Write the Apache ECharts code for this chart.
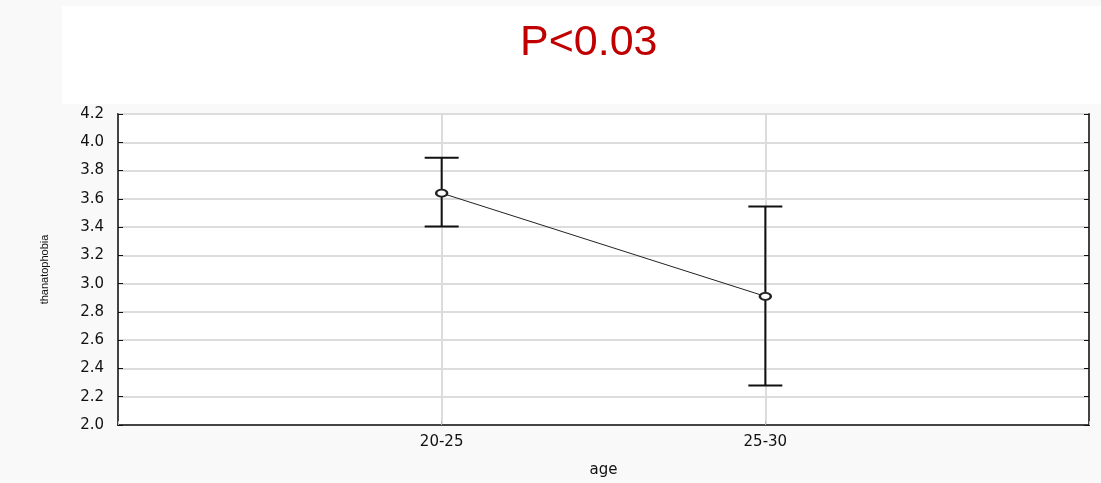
<!DOCTYPE html>
<html><head><meta charset="utf-8">
<script src="https://cdn.jsdelivr.net/npm/echarts@6/dist/echarts.min.js"></script>
<style>html,body{margin:0;padding:0;background:#f9f9f9;}#c{width:1101px;height:483px;}</style>
</head><body><div id="c"></div>
<script>
const categories = ['20-25', '25-30'];
const means = [3.64, 2.91];
const upper = [3.89, 3.545];
const lower = [3.405, 2.28];
const yTicks = [2.0, 2.2, 2.4, 2.6, 2.8, 3.0, 3.2, 3.4, 3.6, 3.8, 4.0, 4.2];

const chart = echarts.init(document.getElementById('c'), null, {renderer: 'canvas'});
const font = 'Liberation Sans, Arial, sans-serif';
const wide = 'DejaVu Sans, sans-serif';
chart.setOption({
  backgroundColor: '#f9f9f9',
  animation: false,
  graphic: [{type: 'rect', shape: {x: 62, y: 6, width: 1039, height: 98}, style: {fill: '#ffffff'}, z: -10}],
  title: {text: 'P<0.03', left: 520, top: 22, padding: 0, textStyle: {color: '#c00000', fontSize: 43, fontWeight: 'normal', fontFamily: font}},
  grid: {left: 118, right: 12, top: 114, bottom: 55, show: true, backgroundColor: '#ffffff', borderColor: '#111', borderWidth: 1.5},
  xAxis: {
    type: 'value', min: 0, max: 3, interval: 1,
    name: 'age', nameLocation: 'middle', nameGap: 38,
    nameTextStyle: {fontFamily: wide, fontSize: 15, color: '#111'},
    axisLine: {show: true, lineStyle: {color: '#111', width: 1.5}},
    axisTick: {show: true, inside: true, length: 4, lineStyle: {color: '#bbb'}},
    axisLabel: {fontFamily: wide, fontSize: 15, color: '#111', margin: 10, formatter: v => (v >= 1 && v <= categories.length) ? categories[v - 1] : ''},
    splitLine: {show: true, lineStyle: {color: '#dcdcdc', width: 2}}
  },
  yAxis: [{
    type: 'value', min: yTicks[0], max: yTicks[yTicks.length - 1], interval: 0.2,
    name: 'thanatophobia', nameLocation: 'middle', nameGap: 68, nameRotate: 90,
    nameTextStyle: {fontFamily: font, fontSize: 11, color: '#111'},
    axisLine: {show: true, lineStyle: {color: '#111', width: 1.5}},
    axisTick: {show: true, inside: true, length: 5, lineStyle: {color: '#111'}},
    axisLabel: {fontFamily: wide, fontSize: 15, color: '#111', margin: 14, formatter: v => v.toFixed(1)},
    splitLine: {show: true, lineStyle: {color: '#dcdcdc', width: 2}}
  }, {
    type: 'value', min: yTicks[0], max: yTicks[yTicks.length - 1], interval: 0.2, position: 'right',
    axisLine: {show: true, lineStyle: {color: '#111', width: 1.5}},
    axisTick: {show: true, inside: true, length: 5, lineStyle: {color: '#111'}},
    axisLabel: {show: false}, splitLine: {show: false}
  }],
  series: [{
    type: 'custom',
    data: categories.map((c, i) => [i + 1, lower[i], upper[i]]),
    renderItem: (params, api) => {
      const x = api.value(0);
      const lo = api.coord([x, api.value(1)]);
      const hi = api.coord([x, api.value(2)]);
      const hw = 17;
      const st = {stroke: '#111', lineWidth: 2};
      return {type: 'group', children: [
        {type: 'line', shape: {x1: lo[0], y1: lo[1], x2: hi[0], y2: hi[1]}, style: st},
        {type: 'line', shape: {x1: hi[0] - hw, y1: hi[1], x2: hi[0] + hw, y2: hi[1]}, style: st},
        {type: 'line', shape: {x1: lo[0] - hw, y1: lo[1], x2: lo[0] + hw, y2: lo[1]}, style: st}
      ]};
    },
    z: 3
  }, {
    type: 'line',
    data: categories.map((c, i) => [i + 1, means[i]]),
    symbol: 'emptyCircle', symbolSize: [11, 7],
    lineStyle: {color: '#222', width: 1},
    itemStyle: {color: '#222', borderWidth: 1.5, borderColor: '#222'},
    z: 4
  }]
});
</script></body></html>
